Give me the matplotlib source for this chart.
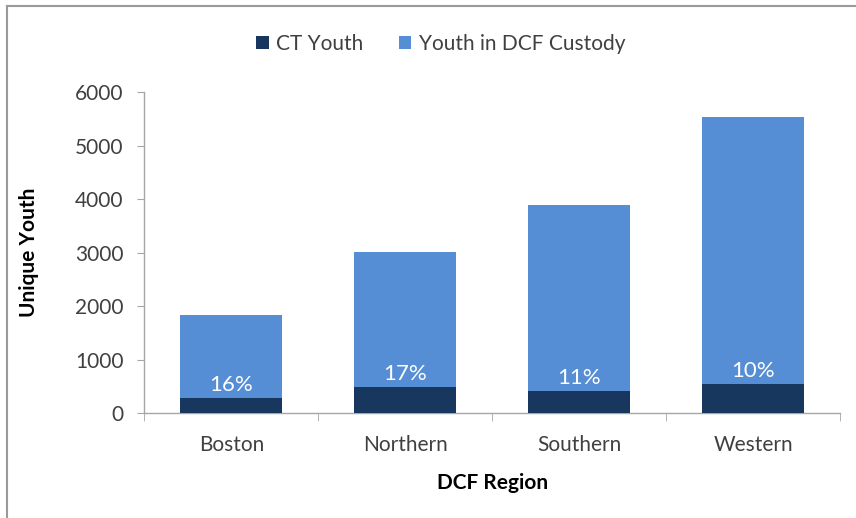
import matplotlib
matplotlib.use("Agg")
import matplotlib.pyplot as plt
from matplotlib.lines import Line2D
from matplotlib.patches import Patch

regions = ["Boston", "Northern", "Southern", "Western"]
ct_youth = [290, 500, 420, 550]
dcf_custody = [1835, 3010, 3890, 5540]
pct_labels = ["16%", "17%", "11%", "10%"]
yticks = [0, 1000, 2000, 3000, 4000, 5000, 6000]

dark = "#17375E"
light = "#558ED5"
axis_grey = "#A6A6A6"
text_col = "#404040"

plt.rcParams['font.family'] = ['Lato', 'DejaVu Sans']

fig = plt.figure(figsize=(8.56, 5.18), dpi=100)
ax = fig.add_axes([0.1686, 0.2021, 0.8127, 0.6197])

x = list(range(len(regions)))
w = 0.585
ax.bar(x, dcf_custody, width=w, color=light, zorder=2, label="Youth in DCF Custody")
ax.bar(x, ct_youth, width=w, color=dark, zorder=3, label="CT Youth")

for xi, v, lab in zip(x, ct_youth, pct_labels):
    ax.annotate(lab, (xi, v), xytext=(0, 2), textcoords="offset points",
                ha="center", va="bottom", color="white", fontsize=16, zorder=4)

ax.set_xlim(-0.5, len(regions) - 0.5)
ax.set_ylim(0, 6000)
ax.set_yticks(yticks)
ax.set_yticklabels([str(t) for t in yticks], fontsize=15, color=text_col)
ax.set_xticks(x)
ax.set_xticklabels(regions, fontsize=15, color=text_col)
ax.set_xticks([i - 0.5 for i in range(len(regions) + 1)], minor=True)
ax.tick_params(axis="x", which="major", length=0, pad=15.5)
ax.tick_params(axis="x", which="minor", length=6, color=axis_grey, direction="out")
ax.tick_params(axis="y", length=5, color=axis_grey, direction="out", pad=10)

for s in ["top", "right"]:
    ax.spines[s].set_visible(False)
for s in ["left", "bottom"]:
    ax.spines[s].set_color(axis_grey)
    ax.spines[s].set_linewidth(1.0)

ax.set_xlabel("DCF Region", fontsize=15, fontweight="bold", color="black", labelpad=13)
ax.set_ylabel("Unique Youth", fontsize=15, fontweight="bold", color="black", labelpad=26)

handles = [Patch(facecolor=dark), Patch(facecolor=light)]
leg = fig.legend(handles, ["CT Youth", "Youth in DCF Custody"], loc="center",
                 bbox_to_anchor=(0.515, 0.915), ncol=2, frameon=False,
                 fontsize=15, handlelength=0.6, handleheight=0.6,
                 handletextpad=0.35, columnspacing=1.7)
for t in leg.get_texts():
    t.set_color(text_col)

# figure frame (top and left visible)
fig.add_artist(Line2D([0.008, 0.008], [0.0, 0.989], transform=fig.transFigure,
                      color="#9A9A9A", linewidth=1.5))
fig.add_artist(Line2D([0.008, 1.0], [0.989, 0.989], transform=fig.transFigure,
                      color="#9A9A9A", linewidth=1.5))

fig.savefig("out.png", dpi=100, facecolor="white")
